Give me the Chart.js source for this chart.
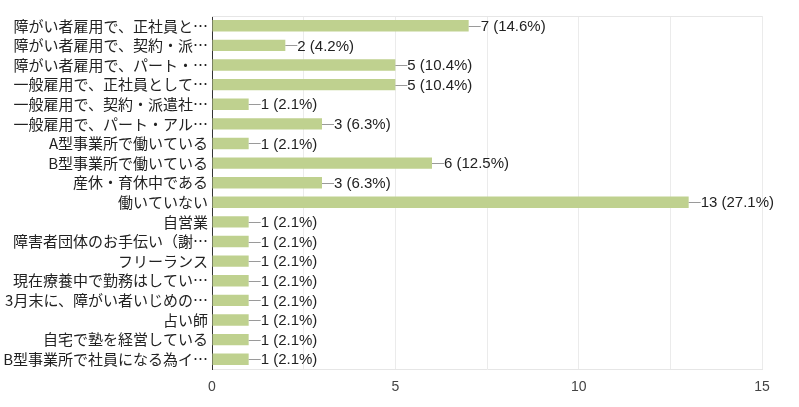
<!DOCTYPE html>
<html>
<head>
<meta charset="utf-8">
<script src="https://cdn.jsdelivr.net/npm/chart.js@4/dist/chart.umd.min.js"></script>
<style>
html,body{margin:0;padding:0;background:#fff;}
#wrap{width:799px;height:407px;position:relative;}
</style>
</head>
<body>
<div id="wrap"><canvas id="c" width="799" height="407"></canvas></div>
<script>
const categories = [
  '障がい者雇用で、正社員と…',
  '障がい者雇用で、契約・派…',
  '障がい者雇用で、パート・…',
  '一般雇用で、正社員として…',
  '一般雇用で、契約・派遣社…',
  '一般雇用で、パート・アル…',
  'A型事業所で働いている',
  'B型事業所で働いている',
  '産休・育休中である',
  '働いていない',
  '自営業',
  '障害者団体のお手伝い（謝…',
  'フリーランス',
  '現在療養中で勤務はしてい…',
  '3月末に、障がい者いじめの…',
  '占い師',
  '自宅で塾を経営している',
  'B型事業所で社員になる為イ…'
];
const counts = [7, 2, 5, 5, 1, 3, 1, 6, 3, 13, 1, 1, 1, 1, 1, 1, 1, 1];
const percents = [14.6, 4.2, 10.4, 10.4, 2.1, 6.3, 2.1, 12.5, 6.3, 27.1, 2.1, 2.1, 2.1, 2.1, 2.1, 2.1, 2.1, 2.1];
const xTickLabels = [0, 5, 10, 15];

const JP = "'Noto Sans CJK JP', 'Liberation Sans', sans-serif";
const NUM = "'Liberation Sans', Arial, sans-serif";

const labelPlugin = {
  id: 'valueLabels',
  afterDatasetsDraw(chart) {
    const ctx = chart.ctx;
    const meta = chart.getDatasetMeta(0);
    ctx.save();
    ctx.font = '15px ' + NUM;
    ctx.textBaseline = 'middle';
    ctx.textAlign = 'left';
    meta.data.forEach((bar, i) => {
      const x = bar.x, y = bar.y;
      ctx.strokeStyle = '#9a9a9a';
      ctx.lineWidth = 1;
      ctx.beginPath();
      ctx.moveTo(x, Math.round(y) + 0.5);
      ctx.lineTo(x + 12, Math.round(y) + 0.5);
      ctx.stroke();
      ctx.fillStyle = '#222';
      ctx.fillText(counts[i] + ' (' + percents[i].toFixed(1) + '%)', x + 12, y + 1);
    });
    ctx.restore();
  },
  beforeDatasetsDraw(chart) {
    const {ctx, chartArea} = chart;
    ctx.save();
    ctx.strokeStyle = '#e6e6e6';
    ctx.lineWidth = 1;
    ctx.beginPath();
    ctx.moveTo(chartArea.left, chartArea.top + 0.5);
    ctx.lineTo(chartArea.right, chartArea.top + 0.5);
    ctx.stroke();
    ctx.restore();
  }
};

new Chart(document.getElementById('c'), {
  type: 'bar',
  data: {
    labels: categories,
    datasets: [{
      data: counts,
      backgroundColor: '#bfd18f',
      borderWidth: 0,
      categoryPercentage: 0.58,
      barPercentage: 1.0
    }]
  },
  options: {
    indexAxis: 'y',
    responsive: false,
    animation: false,
    devicePixelRatio: 1,
    layout: { padding: { top: 16, right: 37, bottom: 0, left: 0 } },
    plugins: { legend: { display: false }, tooltip: { enabled: false } },
    scales: {
      x: {
        min: 0, max: 15,
        ticks: {
          stepSize: 2.5,
          autoSkip: false,
          maxRotation: 0,
          padding: 10,
          color: '#444',
          font: { family: NUM, size: 14 },
          callback: (v) => xTickLabels.includes(v) ? String(v) : ''
        },
        grid: { color: '#ebebeb', drawTicks: false },
        border: { color: '#e6e6e6' },
        afterFit: (s) => { s.height = 38; }
      },
      y: {
        ticks: {
          autoSkip: false,
          padding: 4,
          color: '#222',
          font: { family: JP, size: 15 }
        },
        grid: { display: false, drawTicks: false },
        border: { color: '#333', width: 1 },
        afterFit: (s) => { s.width = 212; }
      }
    }
  },
  plugins: [labelPlugin]
});
</script>
</body>
</html>
